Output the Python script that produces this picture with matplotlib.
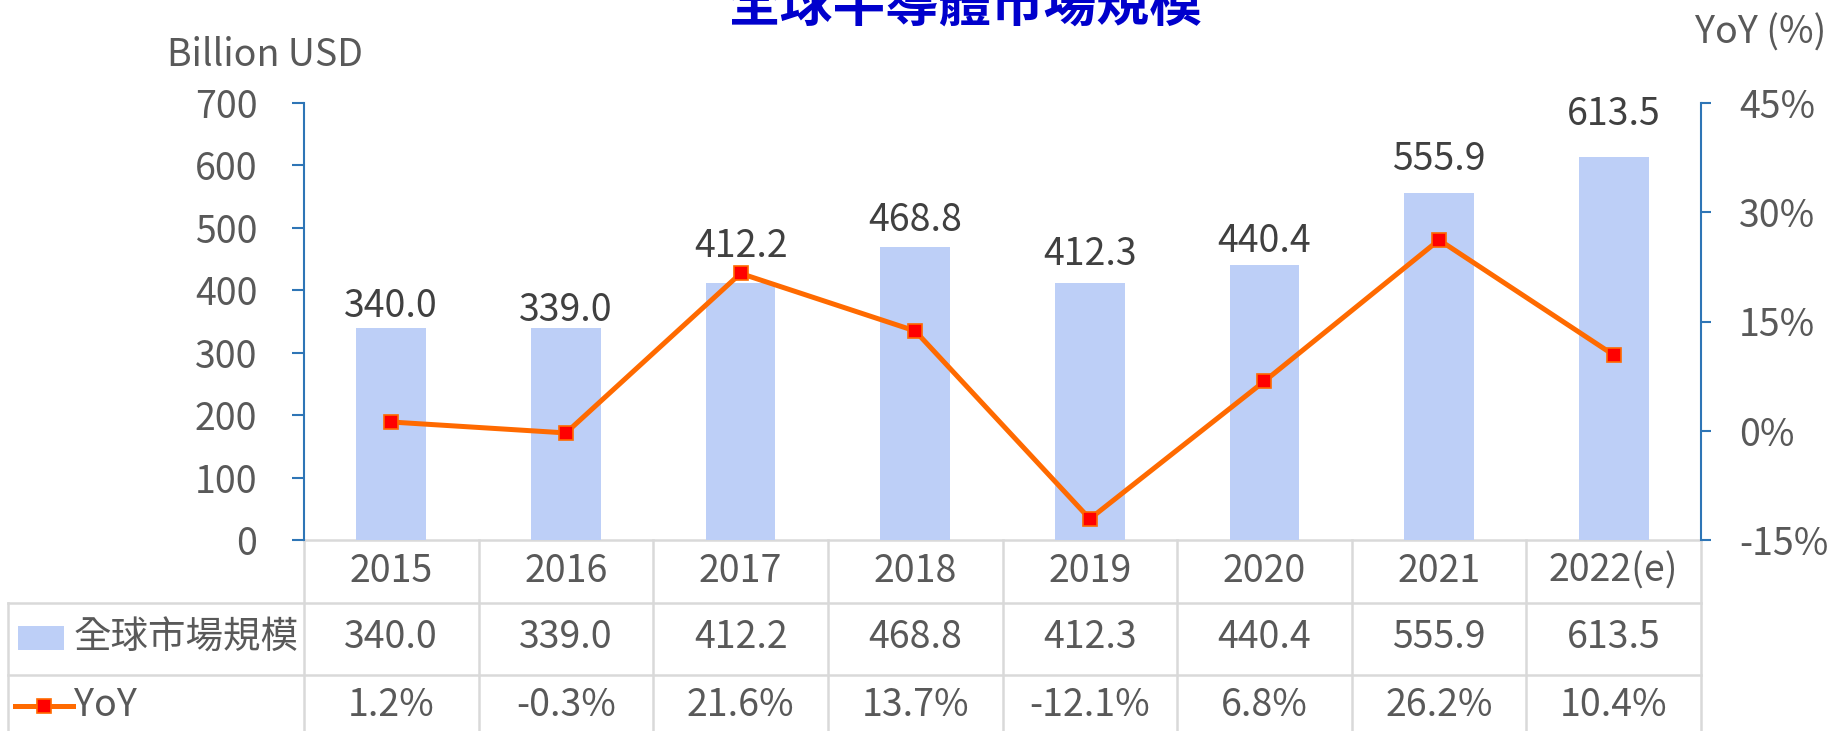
import matplotlib
matplotlib.use("Agg")
import matplotlib.pyplot as plt
from matplotlib.transforms import blended_transform_factory
from matplotlib.lines import Line2D
from matplotlib.patches import Rectangle

plt.rcParams['font.family'] = ['Noto Sans CJK TC', 'DejaVu Sans']

years = ['2015', '2016', '2017', '2018', '2019', '2020', '2021', '2022(e)']
market = [340.0, 339.0, 412.2, 468.8, 412.3, 440.4, 555.9, 613.5]
yoy = [1.2, -0.3, 21.6, 13.7, -12.1, 6.8, 26.2, 10.4]
left_ticks = [0, 100, 200, 300, 400, 500, 600, 700]
right_ticks = [-15, 0, 15, 30, 45]
series_bar = '全球市場規模'
series_line = 'YoY'
title = '全球半導體市場規模'

# label baseline offsets above bar tops (pixels), as placed in the original
label_lift = [11, 7, 26, 16, 18, 13, 23, 32]

BAR = '#BDCFF7'
ORANGE = '#FF6A00'
TXT = '#595959'
SPINE = '#2E75B6'
GRID = '#D9D9D9'
FS = 27

fig = plt.figure(figsize=(18.35, 7.31), dpi=100)
ax = fig.add_axes([304/1835, 1-540/731, (1701-304)/1835, 437/731])
ax2 = ax.twinx()

x = list(range(len(years)))
ax.bar(x, market, width=0.40, color=BAR, zorder=2)
for xi, v, dy in zip(x, market, label_lift):
    ax.annotate(f'{v:.1f}', (xi, v), xytext=(0, dy), textcoords='offset pixels',
                ha='center', va='baseline', fontsize=FS, color='#404040')

ax2.plot(x, yoy, color=ORANGE, lw=3.6, marker='s', markersize=9.5,
         markerfacecolor='#FF0000', markeredgecolor=ORANGE, markeredgewidth=1.2, zorder=3)

ax.set_xlim(-0.5, len(years) - 0.5)
ax.set_ylim(0, 700)
ax.set_yticks(left_ticks)
ax2.set_ylim(-15, 45)
ax2.set_yticks(right_ticks)
ax2.set_yticklabels([f'{t}%' for t in right_ticks])
ax.set_xticks([])

for a in (ax, ax2):
    for s in ('top', 'bottom'):
        a.spines[s].set_visible(False)
ax.spines['right'].set_visible(False)
ax2.spines['left'].set_visible(False)
ax.spines['left'].set_color(SPINE)
ax.spines['left'].set_linewidth(1.5)
ax2.spines['right'].set_color(SPINE)
ax2.spines['right'].set_linewidth(1.5)
ax.tick_params(axis='y', colors=SPINE, labelcolor=TXT, labelsize=FS, length=8.6, width=1.5, pad=25)
ax2.tick_params(axis='y', colors=SPINE, labelcolor=TXT, labelsize=FS, length=7.5, width=1.5, pad=20)

# axis titles and chart title
fig.text(167/1835, 1-56/731, 'Billion USD', fontsize=FS, color=TXT, ha='left', va='center')
fig.text(1826/1835, 1-33/731, 'YoY (%)', fontsize=FS, color=TXT, ha='right', va='center')
fig.text(965/1835, 1-22/731, title, fontsize=38, color='#0000CC', fontweight='bold',
         ha='center', va='baseline')

# data table
tr = blended_transform_factory(ax.transData, ax.transAxes)
xl = -0.5 - 296/((1701-304)/len(years))
r1 = -63/437
r2 = -135/437
bot = -200/437
kw = dict(transform=tr, color=GRID, lw=1.8, clip_on=False, zorder=1)
ax.add_line(Line2D([-0.5, len(years)-0.5], [0, 0], **kw))
ax.add_line(Line2D([xl, len(years)-0.5], [r1, r1], **kw))
ax.add_line(Line2D([xl, len(years)-0.5], [r2, r2], **kw))
ax.add_line(Line2D([xl, xl], [r1, bot], **kw))
for i in range(len(years)+1):
    ax.add_line(Line2D([i-0.5, i-0.5], [0, bot], **kw))

yh = -31/437
yr1 = -98/437
yr2 = -166/437
for xi, y, v, g in zip(x, years, market, yoy):
    ax.text(xi, yh, y, transform=tr, ha='center', va='center', fontsize=FS, color=TXT)
    ax.text(xi, yr1, f'{v:.1f}', transform=tr, ha='center', va='center', fontsize=FS, color=TXT)
    ax.text(xi, yr2, f'{g:.1f}%', transform=tr, ha='center', va='center', fontsize=FS, color=TXT)

# legend keys inside the table
fig.patches.append(Rectangle((18/1835, 1-650/731), 46/1835, 24/731, transform=fig.transFigure,
                             facecolor=BAR, edgecolor='none'))
fig.text(74/1835, 1-638/731, series_bar, fontsize=FS, color=TXT, ha='left', va='center')
fig.lines.append(Line2D([15/1835, 73/1835], [1-706/731, 1-706/731], transform=fig.transFigure,
                        color=ORANGE, lw=3.6))
fig.lines.append(Line2D([44/1835], [1-706/731], transform=fig.transFigure, marker='s',
                        markersize=9.5, markerfacecolor='#FF0000', markeredgecolor=ORANGE,
                        markeredgewidth=1.2, lw=0))
fig.text(74/1835, 1-706/731, series_line, fontsize=FS, color=TXT, ha='left', va='center')

fig.savefig('out.png', dpi=100)
